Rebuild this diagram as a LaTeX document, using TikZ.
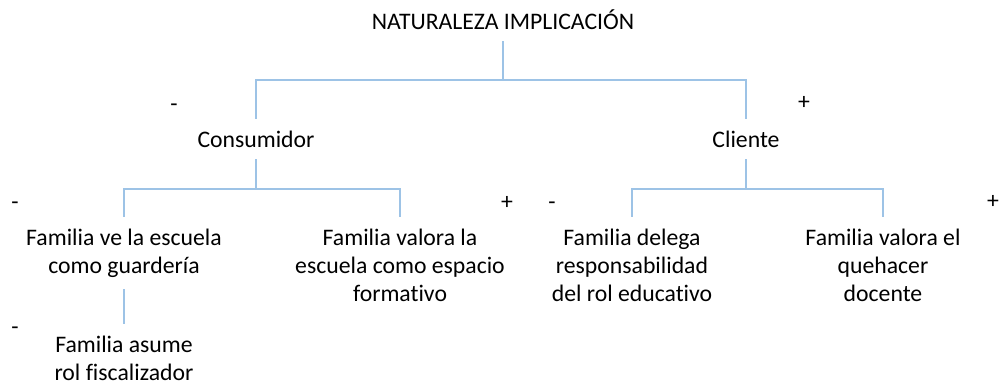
\documentclass[tikz,border=0pt]{standalone}
\usepackage{fontspec}
\setmainfont{Carlito}[Ligatures=NoCommon]
\usepackage{xcolor}
\usetikzlibrary{positioning}
\definecolor{azulrama}{RGB}{157,195,230}

\begin{document}
\begin{tikzpicture}[x=0.02cm,y=-0.02cm,
    rama/.style={draw=azulrama,line width=0.8pt},
    txt/.style={font=\fontsize{13.5}{15.9}\selectfont,align=center,inner sep=0pt,outer sep=0.24cm,anchor=base},
    signo/.style={font=\fontsize{13.5}{15.9}\selectfont,inner sep=0pt,anchor=base}]
    \useasboundingbox (0,0) rectangle (1001,383);
    % base = linea de base de la ultima linea
    \node[txt] (raiz) at (503,29) {NATURALEZA IMPLICACIÓN};
    \node[txt] (cons) at (256,147) {Consumidor};
    \node[txt] (cli) at (746,147) {Cliente};
    \node[txt] (guard) at (124,273) {Familia ve la escuela\\como guardería};
    \node[txt] (form) at (400,301) {Familia valora la\\escuela como espacio\\formativo};
    \node[txt] (deleg) at (632,301) {Familia delega\\responsabilidad\\del rol educativo};
    \node[txt] (queh) at (883,301) {Familia valora el\\quehacer\\docente};
    \node[txt] (fisc) at (124,380) {Familia asume\\rol fiscalizador};
    % signos
    \node[signo] (s1) at (174,111) {-};
    \node[signo] (s2) at (804,109) {+};
    \node[signo] (s3) at (15,209) {-};
    \node[signo] (s4) at (507,209) {+};
    \node[signo] (s5) at (552,209) {-};
    \node[signo] (s6) at (993,208) {+};
    \node[signo] (s7) at (15,334) {-};
    % ramas
    \coordinate (h1) at (504,80);
    \coordinate (h2) at (256,189);
    \coordinate (h3) at (746,189);
    \draw[rama] (raiz.south) -- (raiz.south |- h1);
    \draw[rama] (cons.north) |- (h1) -| (cli.north);
    \draw[rama] (cons.south) -- (h2);
    \draw[rama] (guard.north) |- (h2) -| (form.north);
    \draw[rama] (cli.south) -- (h3);
    \draw[rama] (deleg.north) |- (h3) -| (queh.north);
    \draw[rama] (guard.south) -- (fisc.north);
\end{tikzpicture}
\end{document}
